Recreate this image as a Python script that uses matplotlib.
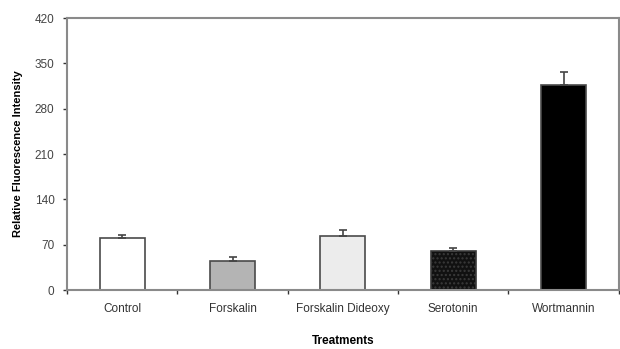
import numpy as np
import matplotlib
matplotlib.use("Agg")
import matplotlib.pyplot as plt

plt.rcParams['font.family'] = ['Liberation Sans', 'DejaVu Sans']

treatments = ["Control", "Forskalin", "Forskalin Dideoxy", "Serotonin", "Wortmannin"]
values = [80, 45, 84, 61, 317]
errors = [5, 6, 8, 4, 20]
colors = ["#ffffff", "#b4b4b4", "#ececec", "#111111", "#000000"]

fig = plt.figure(figsize=(6.2, 3.49), dpi=100)
ax = fig.add_axes([0.108, 0.169, 0.89, 0.779])

x = np.arange(len(treatments))
bars = ax.bar(x, values, width=0.41, color=colors, edgecolor="#4a4a4a", linewidth=1.2, zorder=2)
# dotted fill on serotonin
bars[3].set_hatch("....")
bars[3].set_edgecolor("#3a3a3a")
ax.errorbar(x, values, yerr=[np.zeros(len(errors)), errors], fmt="none",
            ecolor="#444444", elinewidth=1.2, capsize=3, capthick=1.2, zorder=3)

ax.set_xlim(-0.5, 4.5)
ax.set_ylim(0, 420)
ax.set_yticks(np.arange(0, 421, 70))
ax.set_xticks(x)
ax.set_xticklabels(treatments, fontsize=8.5, color="#333333")
ax.set_xticks(np.arange(-0.5, 4.6, 1), minor=True)
ax.tick_params(axis="x", which="major", length=0, pad=9)
ax.tick_params(axis="x", which="minor", length=3, width=1, color="#333333", direction="out")
ax.tick_params(axis="y", length=3, width=1, color="#333333", labelsize=8.5, labelcolor="#444444", pad=6)

for s in ax.spines.values():
    s.set_color("#8a8a8a")
    s.set_linewidth(1.5)

ax.set_ylabel("Relative Fluorescence Intensity", fontsize=8, fontweight="bold", labelpad=8)
ax.set_xlabel("Treatments", fontsize=8.5, fontweight="bold", labelpad=15)

fig.savefig("out.png", dpi=100)
